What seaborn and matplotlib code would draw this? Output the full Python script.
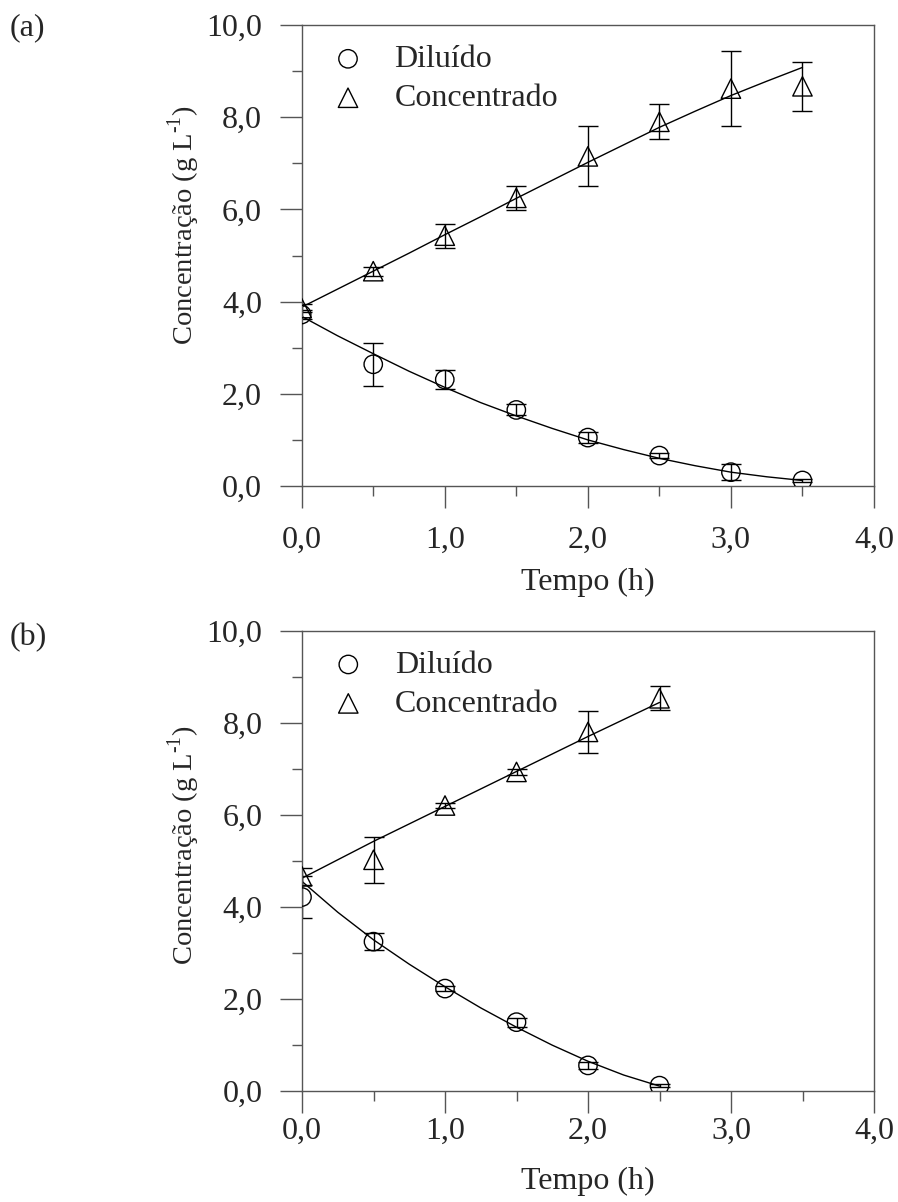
import numpy as np
import pandas as pd
import matplotlib
matplotlib.use("Agg")
import matplotlib.pyplot as plt
from matplotlib.ticker import MultipleLocator, FuncFormatter
import seaborn as sns

# Panel (a) measured points
t_a = [0.0, 0.5, 1.0, 1.5, 2.0, 2.5, 3.0, 3.5]
dil_a = [3.72, 2.64, 2.31, 1.65, 1.05, 0.66, 0.30, 0.12]
dil_a_err = [0.10, 0.46, 0.21, 0.12, 0.12, 0.06, 0.17, 0.04]
conc_a = [3.86, 4.66, 5.43, 6.25, 7.15, 7.90, 8.62, 8.67]
conc_a_err = [0.08, 0.10, 0.26, 0.26, 0.65, 0.38, 0.82, 0.53]

# Panel (a) fitted curves
tfit_a = [0.0, 0.25, 0.5, 0.75, 1.0, 1.25, 1.5, 1.75, 2.0, 2.25, 2.5, 2.75, 3.0, 3.25, 3.5]
dilfit_a = [3.68, 3.26, 2.87, 2.49, 2.14, 1.81, 1.52, 1.25, 1.00, 0.79, 0.60, 0.44, 0.30, 0.20, 0.12]
concfit_a = [3.88, 4.27, 4.66, 5.05, 5.45, 5.84, 6.24, 6.63, 7.02, 7.40, 7.78, 8.13, 8.47, 8.78, 9.08]

# Panel (b) measured points
t_b = [0.0, 0.5, 1.0, 1.5, 2.0, 2.5]
dil_b = [4.21, 3.24, 2.22, 1.49, 0.55, 0.11]
dil_b_err = [0.45, 0.19, 0.05, 0.10, 0.07, 0.04]
conc_b = [4.66, 5.02, 6.20, 6.93, 7.80, 8.53]
conc_b_err = [0.18, 0.50, 0.06, 0.06, 0.46, 0.26]

# Panel (b) fitted curves
tfit_b = [0.0, 0.25, 0.5, 0.75, 1.0, 1.25, 1.5, 1.75, 2.0, 2.25, 2.5]
dilfit_b = [4.55, 3.88, 3.28, 2.75, 2.26, 1.80, 1.38, 0.99, 0.64, 0.34, 0.10]
concfit_b = [4.62, 5.02, 5.42, 5.80, 6.18, 6.56, 6.94, 7.32, 7.70, 8.07, 8.44]

labels = ["Diluído", "Concentrado"]
panel_tags = ["(a)", "(b)"]

sns.set_style("ticks")
plt.rcParams["font.family"] = ["Liberation Serif", "DejaVu Serif"]
plt.rcParams["mathtext.fontset"] = "custom"
plt.rcParams["mathtext.rm"] = "Liberation Serif"
plt.rcParams["font.size"] = 23

SPINE = "#555555"
fmt = FuncFormatter(lambda v, p: f"{v:.1f}".replace(".", ","))

fig = plt.figure(figsize=(8.98, 12.02), dpi=100)
W, H = 898, 1202
ax_a = fig.add_axes([301.7 / W, 1 - 486 / H, 572.3 / W, 461 / H])
ax_b = fig.add_axes([302 / W, 1 - 1090.7 / H, 572 / W, 460 / H])

# ax, data..., ylabel y, xtick pad, xlabel y
panels = [
    (ax_a, t_a, dil_a, dil_a_err, conc_a, conc_a_err, tfit_a, dilfit_a, concfit_a, 0.566, 13.5, -0.178),
    (ax_b, t_b, dil_b, dil_b_err, conc_b, conc_b_err, tfit_b, dilfit_b, concfit_b, 0.534, 3.0, -0.165),
]

for ax, t, d, de, c, ce, tf, df, cf, ylab_y, xpad, xlab_y in panels:
    # fitted lines
    sns.lineplot(x=tf, y=df, ax=ax, color="black", linewidth=1.0, sort=False)
    sns.lineplot(x=tf, y=cf, ax=ax, color="black", linewidth=1.0, sort=False)
    # error bars
    ax.errorbar(t, d, yerr=de, fmt="none", ecolor="black", elinewidth=1.0,
                capsize=7.5, capthick=1.0)
    ax.errorbar(t, c, yerr=ce, fmt="none", ecolor="black", elinewidth=1.0,
                capsize=7.5, capthick=1.0)
    # hollow markers
    ax.scatter(t, d, marker="o", s=175, facecolors="none", edgecolors="black",
               linewidths=1.0, label=labels[0], zorder=3)
    ax.scatter(t, c, marker="^", s=195, facecolors="none", edgecolors="black",
               linewidths=1.0, label=labels[1], zorder=3)

    ax.set_xlim(0, 4)
    ax.set_ylim(0, 10)
    ax.xaxis.set_major_locator(MultipleLocator(1.0))
    ax.xaxis.set_minor_locator(MultipleLocator(0.5))
    ax.yaxis.set_major_locator(MultipleLocator(2.0))
    ax.yaxis.set_minor_locator(MultipleLocator(1.0))
    ax.xaxis.set_major_formatter(fmt)
    ax.yaxis.set_major_formatter(fmt)
    ax.tick_params(which="major", direction="out", length=15.5, width=1.0,
                   color=SPINE, labelsize=23)
    ax.tick_params(axis="x", which="major", pad=xpad)
    ax.tick_params(axis="y", which="major", pad=13)
    ax.tick_params(which="minor", direction="out", length=7.5, width=1.0, color=SPINE)
    ax.tick_params(top=False, right=False, which="both")
    for sp in ax.spines.values():
        sp.set_visible(True)
        sp.set_color(SPINE)
        sp.set_linewidth(1.0)

    ax.set_xlabel("Tempo (h)", fontsize=23)
    ax.set_ylabel("Concentração (g L$^{\\text{-1}}$)", fontsize=20.5)
    ax.yaxis.set_label_coords(-0.174, ylab_y)
    ax.xaxis.set_label_coords(0.5, xlab_y)

    ax.legend(loc="upper left", bbox_to_anchor=(0.053, 0.957), frameon=False,
              borderaxespad=0, borderpad=0, handlelength=1.0, handletextpad=0.95,
              labelspacing=0.3, fontsize=23)

fig.text(10 / W, 1 - 28 / H, panel_tags[0], fontsize=23, va="center", ha="left")
fig.text(10 / W, 1 - 638 / H, panel_tags[1], fontsize=23, va="center", ha="left")

fig.savefig("out.png", dpi=100)
